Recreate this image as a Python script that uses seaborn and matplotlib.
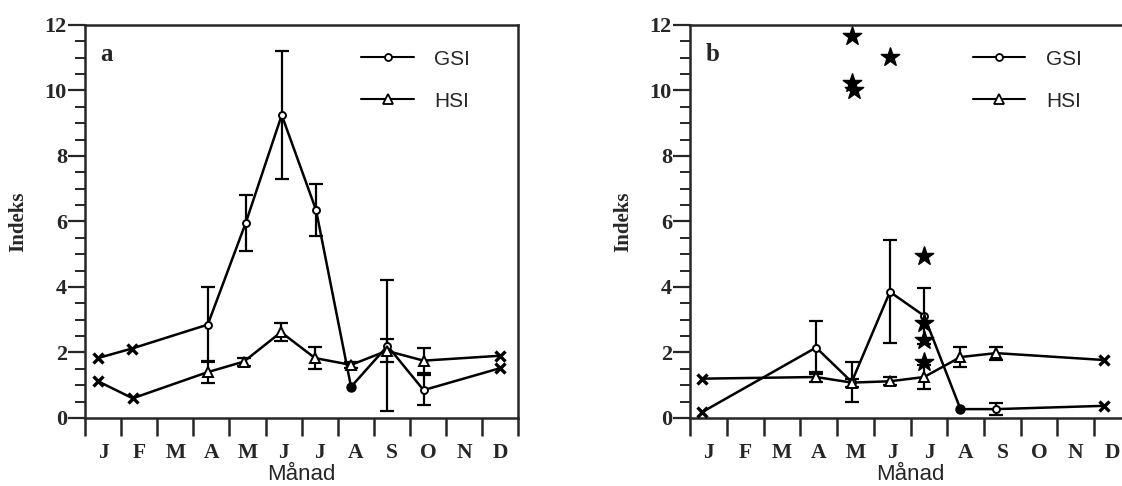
import numpy as np
import matplotlib.pyplot as plt
import pandas as pd
import seaborn as sns
from matplotlib.lines import Line2D
from matplotlib.ticker import MultipleLocator

# ---------------- data (month position, value, error) ----------------
months = ['J', 'F', 'M', 'A', 'M', 'J', 'J', 'A', 'S', 'O', 'N', 'D']

# panel a
gsi_a_x = [0.36, 1.3, 3.4, 4.45, 5.45, 6.4, 7.37, 8.38, 9.38, 11.5]
gsi_a_y = [1.83, 2.12, 2.85, 5.95, 9.25, 6.35, 0.95, 2.2, 0.85, 1.52]
gsi_a_err = [0, 0, 1.15, 0.85, 1.95, 0.8, 0, 2.0, 0.45, 0]
gsi_a_mark = ['x', 'x', 'o', 'o', 'o', 'o', 'f', 'o', 'o', 'x']

hsi_a_x = [0.36, 1.32, 3.4, 4.4, 5.43, 6.37, 7.37, 8.36, 9.38, 11.5]
hsi_a_y = [1.12, 0.6, 1.4, 1.72, 2.62, 1.83, 1.62, 2.05, 1.75, 1.9]
hsi_a_err = [0, 0, 0.33, 0.12, 0.28, 0.33, 0.1, 0.35, 0.38, 0]
hsi_a_mark = ['x', 'x', '^', '^', '^', '^', '^', '^', '^', 'x']

# panel b
gsi_b_x = [0.33, 3.43, 4.4, 5.44, 6.37, 7.36, 8.33, 11.26]
gsi_b_y = [0.18, 2.15, 1.1, 3.85, 3.12, 0.27, 0.27, 0.37]
gsi_b_err = [0, 0.8, 0.62, 1.57, 0.85, 0, 0.18, 0]
gsi_b_mark = ['x', 'o', 'o', 'o', 'o', 'f', 'o', 'x']

hsi_b_x = [0.33, 3.43, 4.4, 5.44, 6.37, 7.36, 8.33, 11.26]
hsi_b_y = [1.2, 1.25, 1.08, 1.12, 1.25, 1.86, 1.98, 1.77]
hsi_b_err = [0, 0.15, 0.12, 0.12, 0.36, 0.3, 0.2, 0]
hsi_b_mark = ['x', '^', '^', '^', '^', '^', '^', 'x']

star_x = [4.4, 4.42, 4.45, 5.44, 6.37, 6.37, 6.37, 6.37]
star_y = [11.66, 10.23, 10.02, 11.02, 4.95, 2.9, 2.38, 1.71]

sns.set_style('ticks')
plt.rcParams['font.family'] = ['Liberation Serif', 'DejaVu Serif']
plt.rcParams['axes.linewidth'] = 1.8

fig = plt.figure(figsize=(11.22, 4.86), dpi=100)
ax_a = fig.add_axes([0.0758, 0.14, 0.386, 0.8086])
ax_b = fig.add_axes([0.615, 0.14, 0.393, 0.8086])


def draw_series(ax, x, y, err, mark, cap=5):
    df = pd.DataFrame({'x': x, 'y': y})
    sns.lineplot(data=df, x='x', y='y', ax=ax, color='black', lw=1.8,
                 sort=False, estimator=None)
    for xi, yi, ei, m in zip(x, y, err, mark):
        if ei > 0:
            ax.errorbar(xi, yi, yerr=ei, fmt='none', ecolor='black',
                        elinewidth=1.6, capsize=cap, capthick=1.6, zorder=3)
        if m == 'x':
            ax.plot(xi, yi, 'x', ms=7.5, mec='black', mew=2.4, zorder=5)
        elif m == 'o':
            ax.plot(xi, yi, 'o', ms=5, mfc='white', mec='black', mew=1.4, zorder=5)
        elif m == 'f':
            ax.plot(xi, yi, 'o', ms=6.5, mfc='black', mec='black', zorder=5)
        elif m == '^':
            ax.plot(xi, yi, '^', ms=7, mfc='white', mec='black', mew=1.4, zorder=5)


def style_axes(ax, letter, leg_x):
    ax.set_xlim(0, 12)
    ax.set_ylim(0, 12)
    ax.xaxis.set_major_locator(MultipleLocator(1))
    ax.set_xticks(np.arange(12) + 0.5, minor=True)
    ax.set_xticklabels([])
    ax.set_xticklabels(months, minor=True, fontsize=15.5, fontweight='bold')
    ax.tick_params(axis='x', which='major', direction='out', length=13, width=1.8)
    ax.tick_params(axis='x', which='minor', length=0, pad=18)
    ax.yaxis.set_major_locator(MultipleLocator(2))
    ax.yaxis.set_minor_locator(MultipleLocator(0.5))
    ax.tick_params(axis='y', which='major', direction='out', length=12, width=1.6,
                   labelsize=16, pad=1)
    ax.tick_params(axis='y', which='minor', direction='out', length=7, width=1.4)
    for lab in ax.get_yticklabels():
        lab.set_fontweight('bold')
    ax.set_xlabel('Månad', fontsize=16, family=['Liberation Sans'], labelpad=1)
    ax.set_ylabel('Indeks', fontsize=15, fontweight='bold', labelpad=12)
    ax.text(0.035, 0.955, letter, transform=ax.transAxes, fontsize=18,
            fontweight='bold', va='top')
    handles = [
        Line2D([], [], color='black', lw=1.5, marker='o', ms=5, mfc='white', mew=1.3),
        Line2D([], [], color='black', lw=1.5, marker='^', ms=7, mfc='white', mew=1.3),
    ]
    ax.legend(handles, ['GSI', 'HSI'], loc='upper left',
              bbox_to_anchor=(leg_x, 0.985),
              frameon=False, handlelength=2.5, handletextpad=1.0,
              labelspacing=1.1, prop={'family': 'Liberation Sans', 'size': 15})


draw_series(ax_a, gsi_a_x, gsi_a_y, gsi_a_err, gsi_a_mark)
draw_series(ax_a, hsi_a_x, hsi_a_y, hsi_a_err, hsi_a_mark)
style_axes(ax_a, 'a', 0.595)

draw_series(ax_b, gsi_b_x, gsi_b_y, gsi_b_err, gsi_b_mark)
draw_series(ax_b, hsi_b_x, hsi_b_y, hsi_b_err, hsi_b_mark)
sns.scatterplot(x=star_x, y=star_y, ax=ax_b, marker='*', s=190, color='black',
                edgecolor='black', zorder=6)
style_axes(ax_b, 'b', 0.6)

fig.savefig('out.png', dpi=100)
